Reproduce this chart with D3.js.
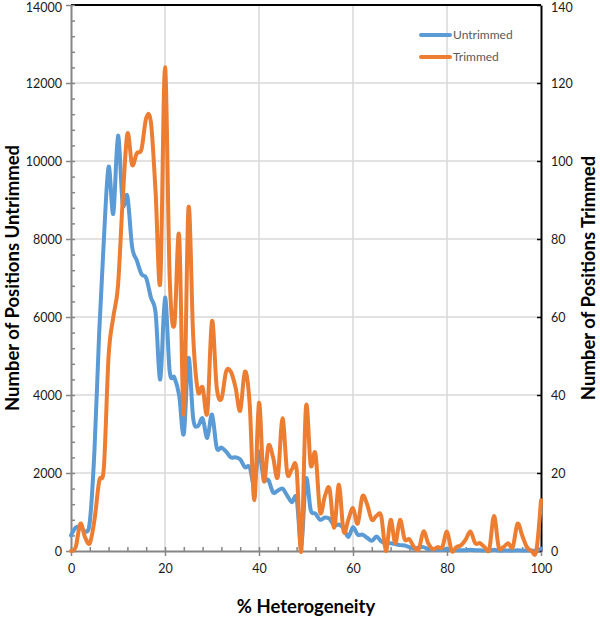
<!DOCTYPE html>
<html>
<head>
<meta charset="utf-8">
<script src="https://cdn.jsdelivr.net/npm/d3@7"></script>
<style>
  html, body { margin: 0; padding: 0; background: #fff; }
  svg { display: block; font-family: Lato, "Open Sans", sans-serif; }
</style>
</head>
<body>
<svg id="chart" width="600" height="620"></svg>
<script>
// % heterogeneity (x categories)
const heterogeneity = d3.range(0, 101);

// Number of positions, untrimmed (left axis)
const untrimmed = [
  400, 600, 620, 500, 750, 2600, 5600, 8000, 9850, 8650,
  10650, 8900, 9100, 7800, 7450, 7100, 7000, 6500, 6100, 4400,
  6500, 4600, 4450, 4000, 3000, 4950, 3400, 3200, 3400, 2900,
  3500, 2650, 2650, 2550, 2400, 2400, 2350, 2150, 2150, 1700,
  2550, 1850, 1820, 1500, 1550, 1600, 1420, 1250, 1350, 150,
  1850, 1050, 960, 800, 860, 830, 650, 680, 580, 360,
  610, 420, 420, 340, 260, 370, 250, 200, 200, 180,
  150, 140, 100, 60, 90, 100, 50, 40, 30, 30,
  60, 20, 20, 20, 20, 30, 20, 20, 10, 10,
  30, 10, 10, 10, 10, 20, 10, 10, 10, 10,
  60
];

// Number of positions, trimmed (right axis)
const trimmed = [
  0, 1, 7, 3.5, 2, 8, 18, 21.5, 50, 60,
  68, 90, 107, 99, 102, 103, 111, 110, 92, 69,
  124, 70, 58, 81, 35, 88, 55, 41, 42, 35.5,
  59, 42, 39, 46, 46, 42, 36, 46, 38, 13,
  38, 18, 27, 24, 19, 34, 20, 21, 21, 0,
  37, 22, 25, 10, 14, 16, 6, 17, 5, 8,
  11, 7, 14, 12, 8, 9, 9, 0, 8, 2,
  8, 3, 3, 1, 0.5, 5, 2, 0.5, 1, 1,
  5, 0, 1, 1.5, 3, 5, 2, 2, 1, 0.5,
  9, 1, 1, 2, 1, 7, 4, 1, 0, 0,
  13
];

const xTicks = [0, 20, 40, 60, 80, 100];
const leftTicks = [0, 2000, 4000, 6000, 8000, 10000, 12000, 14000];
const rightTicks = [0, 20, 40, 60, 80, 100, 120, 140];
const seriesNames = ["Untrimmed", "Trimmed"];
const seriesColors = ["#5B9BD5", "#ED7D31"];

const svg = d3.select("#chart");
const L = 71, R = 541, T = 5, B = 551;

const x = d3.scaleLinear().domain([0, 100]).range([L, R]);
const yL = d3.scaleLinear().domain([0, 14000]).range([B, T]);
const yR = d3.scaleLinear().domain([0, 140]).range([B, T]);

// gridlines
const grid = svg.append("g");
grid.selectAll("line.h").data(leftTicks.filter(d => d > 0 && d < 14000)).join("line")
  .attr("x1", L).attr("x2", R).attr("y1", d => yL(d)).attr("y2", d => yL(d))
  .attr("stroke", "#D9D9D9").attr("stroke-width", 1.5);
grid.selectAll("line.v").data(xTicks.filter(d => d > 0 && d < 100)).join("line")
  .attr("y1", T).attr("y2", B).attr("x1", d => x(d)).attr("x2", d => x(d))
  .attr("stroke", "#D9D9D9").attr("stroke-width", 1.5);

// top border
svg.append("line").attr("x1", L).attr("x2", R).attr("y1", T).attr("y2", T)
  .attr("stroke", "#000").attr("stroke-width", 2);

function styleAxis(g, color, width) {
  g.select(".domain").attr("stroke", color).attr("stroke-width", width);
  g.selectAll(".tick line").attr("stroke", color).attr("stroke-width", 1.5);
  g.selectAll(".tick text").attr("fill", "#1a1a1a").attr("font-size", 12.5)
    .attr("font-family", "Lato, 'Open Sans', sans-serif");
}

// left minor ticks (inside)
const leftMinor = svg.append("g").attr("transform", `translate(${L},0)`)
  .call(d3.axisRight(yL).tickValues(d3.range(0, 14001, 400)).tickSize(4).tickFormat(""));
leftMinor.select(".domain").remove();
leftMinor.selectAll(".tick line").attr("stroke", "#868686").attr("stroke-width", 1.5);

// bottom minor ticks (inside)
const botMinor = svg.append("g").attr("transform", `translate(0,${B})`)
  .call(d3.axisTop(x).tickValues(d3.range(0, 101, 4)).tickSize(4).tickFormat(""));
botMinor.select(".domain").remove();
botMinor.selectAll(".tick line").attr("stroke", "#868686").attr("stroke-width", 1.5);

// left axis
const gL = svg.append("g").attr("transform", `translate(${L},0)`)
  .call(d3.axisLeft(yL).tickValues(leftTicks).tickSize(5).tickSizeOuter(0).tickPadding(4).tickFormat(d3.format("d")));
styleAxis(gL, "#868686", 2);
gL.selectAll(".tick text").filter(d => d === 14000).attr("dy", "0.5em");

// bottom axis
const gB = svg.append("g").attr("transform", `translate(0,${B})`)
  .call(d3.axisBottom(x).tickValues(xTicks).tickSize(5).tickSizeOuter(0).tickPadding(8).tickFormat(d3.format("d")));
styleAxis(gB, "#868686", 2);

// right axis
const gR = svg.append("g").attr("transform", `translate(${R},0)`)
  .call(d3.axisRight(yR).tickValues(rightTicks).tickSizeInner(-4).tickSizeOuter(0).tickPadding(10).tickFormat(d3.format("d")));
styleAxis(gR, "#000", 2);
gR.selectAll(".tick text").filter(d => d === 140).attr("dy", "0.5em");

// lines
const curve = d3.curveCardinal.tension(0);
const lineU = d3.line().x((d, i) => x(heterogeneity[i])).y(d => yL(d)).curve(curve);
const lineT = d3.line().x((d, i) => x(heterogeneity[i])).y(d => yR(d)).curve(curve);

svg.append("path").datum(untrimmed).attr("d", lineU)
  .attr("fill", "none").attr("stroke", seriesColors[0]).attr("stroke-width", 4)
  .attr("stroke-linejoin", "round").attr("stroke-linecap", "round");
svg.append("path").datum(trimmed).attr("d", lineT)
  .attr("fill", "none").attr("stroke", seriesColors[1]).attr("stroke-width", 4)
  .attr("stroke-linejoin", "round").attr("stroke-linecap", "round");

// legend
const leg = svg.append("g");
seriesNames.forEach((name, i) => {
  const yy = 35 + i * 22;
  leg.append("line").attr("x1", 421).attr("x2", 450).attr("y1", yy).attr("y2", yy)
    .attr("stroke", seriesColors[i]).attr("stroke-width", 4).attr("stroke-linecap", "round");
  leg.append("text").attr("x", 453).attr("y", yy).attr("dy", "0.35em")
    .attr("font-size", 12).attr("fill", "#595959").text(name);
});

// axis titles
svg.append("text").attr("transform", `translate(19,${(T + B) / 2}) rotate(-90)`)
  .attr("text-anchor", "middle").attr("font-weight", "bold").attr("font-size", 18.5)
  .attr("fill", "#000").text("Number of Positions Untrimmed");
svg.append("text").attr("transform", `translate(595,${(T + B) / 2}) rotate(-90)`)
  .attr("text-anchor", "middle").attr("font-weight", "bold").attr("font-size", 18.5)
  .attr("fill", "#000").text("Number of Positions Trimmed");
svg.append("text").attr("x", 306).attr("y", 613)
  .attr("text-anchor", "middle").attr("font-weight", "bold").attr("font-size", 18.5)
  .attr("fill", "#000").text("% Heterogeneity");
</script>
</body>
</html>
